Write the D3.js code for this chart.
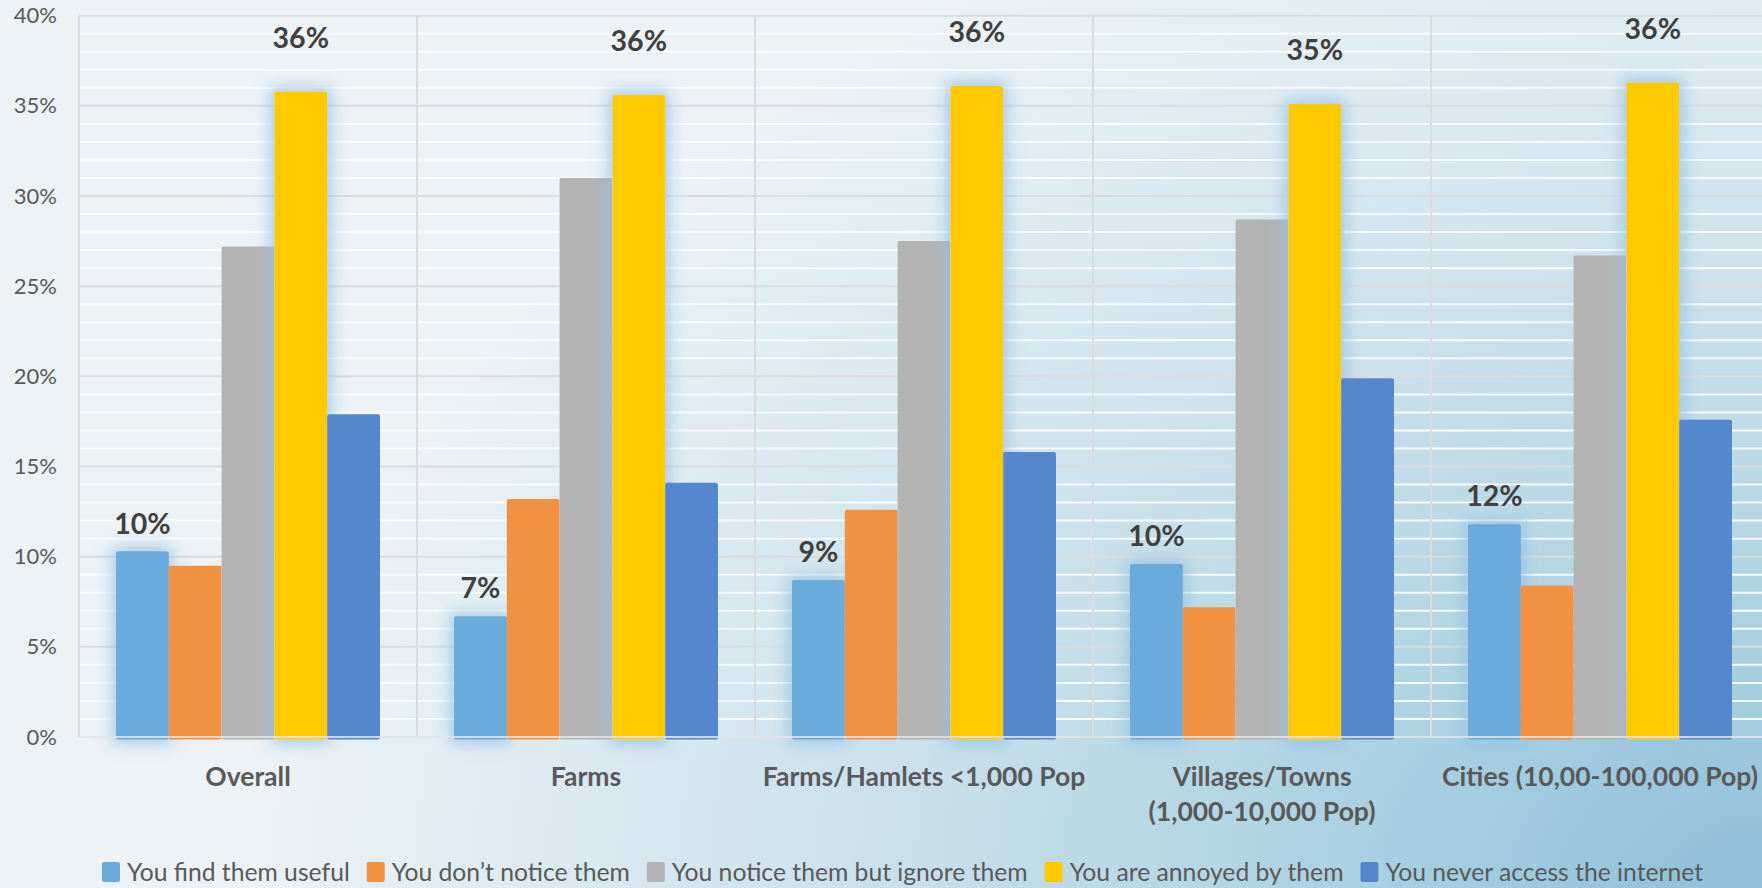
<!DOCTYPE html>
<html>
<head>
<meta charset="utf-8">
<script src="https://cdn.jsdelivr.net/npm/d3@7/dist/d3.min.js"></script>
<style>
  html, body { margin: 0; padding: 0; }
  body {
    width: 1762px; height: 888px; overflow: hidden;
    background: radial-gradient(ellipse 1500px 1050px at 100% 100%, #8dbfd8 0%, #a8cfe1 25%, #c6dfea 55%, #dfecf2 85%, #ecf2f6 100%);
  }
  svg { display: block; }
  text { font-family: Lato, "Open Sans", sans-serif; }
</style>
</head>
<body>
<svg id="chart" width="1762" height="888"></svg>
<script>
// ---- data ----
const categories = [
  "Overall",
  "Farms",
  "Farms/Hamlets <1,000 Pop",
  "Villages/Towns\n(1,000-10,000 Pop)",
  "Cities (10,00-100,000 Pop)"
];
const seriesNames = [
  "You find them useful",
  "You don\u2019t notice them",
  "You notice them but ignore them",
  "You are annoyed by them",
  "You never access the internet"
];
const findUseful   = [0.103, 0.067, 0.087, 0.096, 0.118];
const dontNotice   = [0.095, 0.132, 0.126, 0.072, 0.084];
const noticeIgnore = [0.272, 0.310, 0.275, 0.287, 0.267];
const annoyed      = [0.358, 0.356, 0.361, 0.351, 0.363];
const neverAccess  = [0.179, 0.141, 0.158, 0.199, 0.176];
const seriesValues = [findUseful, dontNotice, noticeIgnore, annoyed, neverAccess];
const labelledSeries = [0, 3];
const yTicks = [0, 0.05, 0.10, 0.15, 0.20, 0.25, 0.30, 0.35, 0.40];

(function () {
// ---- styles ----
const colors = ["#6aabdc", "#f19142", "#b3b3b3", "#ffca00", "#5587cf"];

const svg = d3.select("#chart");
const defs = svg.append("defs");
const f = defs.append("filter").attr("id", "glow")
  .attr("x", "-60%").attr("y", "-20%").attr("width", "220%").attr("height", "140%");
f.append("feMorphology").attr("in", "SourceAlpha").attr("operator", "dilate").attr("radius", 4).attr("result", "d");
f.append("feGaussianBlur").attr("in", "d").attr("stdDeviation", 8).attr("result", "b");
f.append("feFlood").attr("flood-color", "#94c0e4").attr("flood-opacity", 0.8);
f.append("feComposite").attr("in2", "b").attr("operator", "in").attr("result", "g");
const fm = f.append("feMerge");
fm.append("feMergeNode").attr("in", "g");
fm.append("feMergeNode").attr("in", "SourceGraphic");

const pLeft = 79, pTop = 15.7, pBottom = 737, step = 338;
const pRight = pLeft + step * categories.length;

const x0 = d3.scaleBand().domain(d3.range(categories.length))
  .range([pLeft, pRight]).paddingInner(0.219).paddingOuter(0.1095);
const x1 = d3.scaleBand().domain(d3.range(seriesNames.length))
  .range([0, x0.bandwidth()]).padding(0);
const y = d3.scaleLinear().domain([0, 0.40]).range([pBottom, pTop]);

// plot area light overlay
svg.append("rect").attr("x", pLeft).attr("y", pTop).attr("width", pRight - pLeft).attr("height", pBottom - pTop)
  .attr("fill", "#ffffff").attr("fill-opacity", 0.06);

// minor gridlines (1%)
const minor = d3.range(1, 40).filter(v => v % 5 !== 0).map(v => v / 100);
svg.append("g").selectAll("line").data(minor).join("line")
  .attr("x1", pLeft).attr("x2", pRight)
  .attr("y1", d => y(d)).attr("y2", d => y(d))
  .attr("stroke", "#fafcfd").attr("stroke-opacity", 0.95).attr("stroke-width", 2);

// major gridlines
svg.append("g").selectAll("line").data(yTicks.slice(1)).join("line")
  .attr("x1", pLeft).attr("x2", pRight)
  .attr("y1", d => y(d)).attr("y2", d => y(d))
  .attr("stroke", "#dadcde").attr("stroke-width", 2);

// vertical category separators + left boundary
svg.append("g").selectAll("line").data(d3.range(categories.length)).join("line")
  .attr("x1", d => pLeft + d * x0.step()).attr("x2", d => pLeft + d * x0.step())
  .attr("y1", pTop).attr("y2", pBottom)
  .attr("stroke", "#dadcde").attr("stroke-width", 2);

// y axis
const yAxis = d3.axisLeft(y).tickValues(yTicks).tickFormat(d3.format(".0%")).tickSize(0).tickPadding(22);
const ya = svg.append("g").attr("transform", `translate(${pLeft},0)`).call(yAxis);
ya.select(".domain").remove();
ya.selectAll("text").attr("fill", "#595959").style("font-size", "22px").style("font-family", "Lato");

// bars
const groups = svg.append("g").selectAll("g").data(d3.range(categories.length)).join("g")
  .attr("transform", c => `translate(${x0(c)},0)`);
groups.selectAll("rect").data(c => seriesValues.map((vals, s) => ({ s, v: vals[c] }))).join("rect")
  .attr("x", d => x1(d.s))
  .attr("y", d => y(d.v))
  .attr("width", x1.bandwidth())
  .attr("height", d => y(0) - y(d.v) + 2.5)
  .attr("rx", 2)
  .attr("fill", d => colors[d.s])
  .attr("filter", d => labelledSeries.includes(d.s) ? "url(#glow)" : null);

// baseline
svg.append("line").attr("x1", pLeft).attr("x2", pRight).attr("y1", y(0)).attr("y2", y(0))
  .attr("stroke", "#e2e4e6").attr("stroke-opacity", 0.85).attr("stroke-width", 2);

// data labels
const fmt = d3.format(".0%");
const labelOffset = { 0: 28, 3: 54 };
groups.selectAll("text.lbl").data(c => labelledSeries.map(s => ({ s, v: seriesValues[s][c] }))).join("text")
  .attr("class", "lbl")
  .attr("x", d => x1(d.s) + x1.bandwidth() / 2)
  .attr("y", d => y(d.v) - labelOffset[d.s])
  .attr("dy", "0.36em")
  .attr("text-anchor", "middle")
  .attr("fill", "#404040")
  .style("font-size", "28.5px").style("font-weight", "bold")
  .text(d => fmt(d.v));

// category labels
const cat = svg.append("g").selectAll("text").data(categories).join("text")
  .attr("x", (d, i) => x0(i) + x0.bandwidth() / 2)
  .attr("y", 786)
  .attr("text-anchor", "middle")
  .attr("fill", "#595959")
  .style("font-size", "26.5px").style("font-weight", "bold");
cat.selectAll("tspan").data(d => d.split("\n")).join("tspan")
  .attr("x", function () { return this.parentNode.getAttribute("x"); })
  .attr("dy", (d, i) => i === 0 ? 0 : 35)
  .text(d => d);

// legend
const legend = svg.append("g");
let lx = 102;
seriesNames.forEach((name, i) => {
  legend.append("rect").attr("x", lx).attr("y", 862).attr("width", 18).attr("height", 20).attr("rx", 2)
    .attr("fill", colors[i]);
  const t = legend.append("text").attr("x", lx + 25).attr("y", 872).attr("dy", "0.35em")
    .attr("fill", "#595959").style("font-size", "24.7px").text(name);
  lx += 25 + t.node().getComputedTextLength() + 17;
});
})();
</script>
</body>
</html>
